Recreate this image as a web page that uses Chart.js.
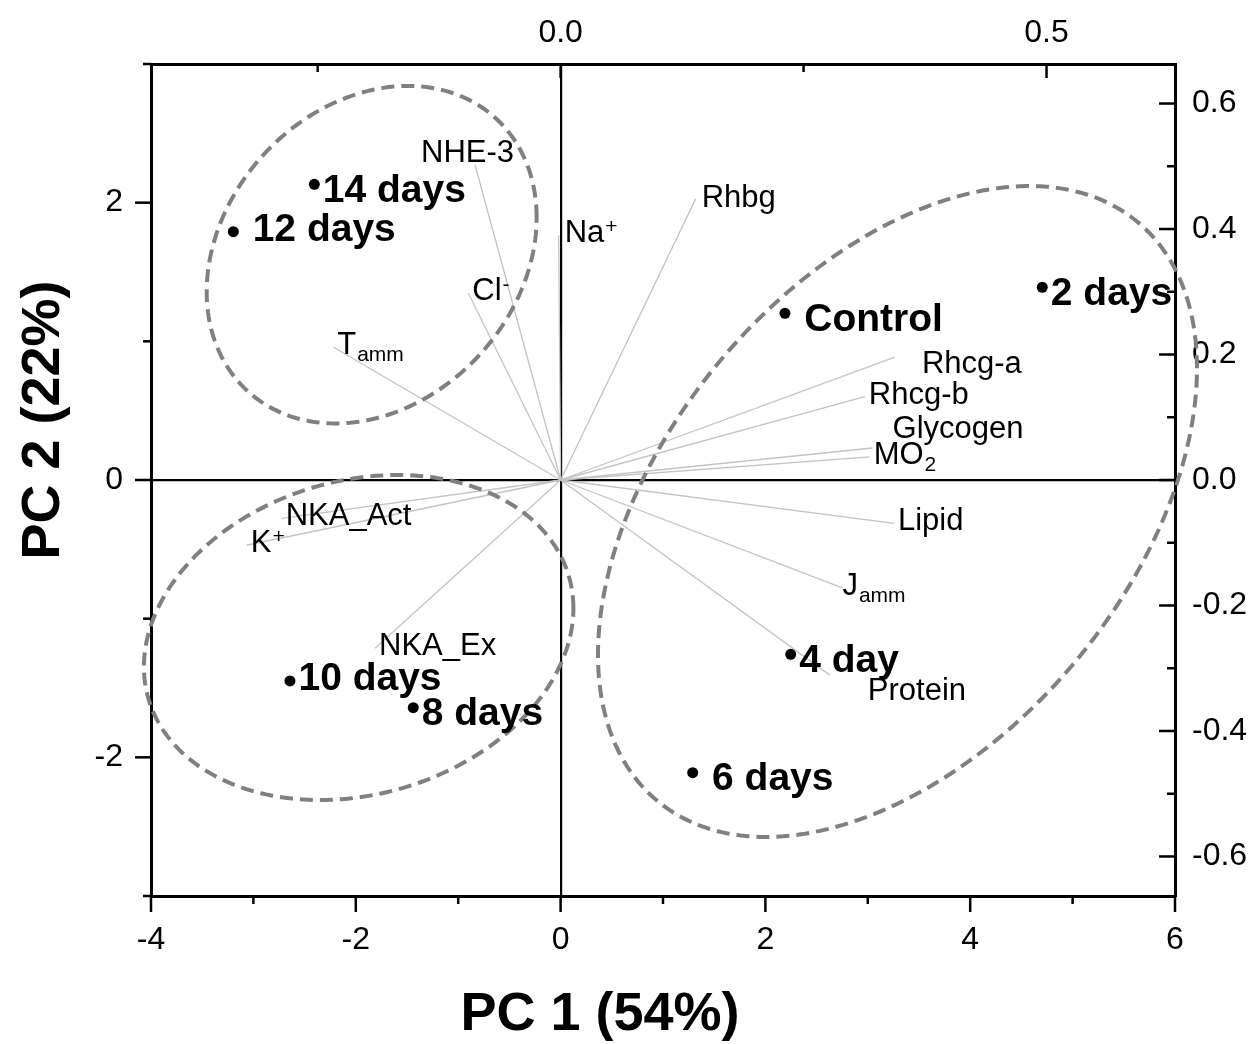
<!DOCTYPE html>
<html>
<head>
<meta charset="utf-8">
<script src="https://cdn.jsdelivr.net/npm/chart.js@4.4.1/dist/chart.umd.min.js"></script>
<style>
  html, body { margin: 0; padding: 0; background: #fff; }
  canvas { display: block; }
</style>
</head>
<body>
<canvas id="biplot" width="1258" height="1044"></canvas>
<script>
// puntuaciones de cada muestreo (PC1, PC2)
const muestras = ['14 days', ' 12 days', '2 days', ' Control', '4 day', ' 6 days', '10 days', '8 days'];
const pc1 = [-2.405, -3.196, 4.704, 2.191, 2.247, 1.290, -2.643, -1.439];
const pc2 = [2.132, 1.791, 1.390, 1.202, -1.257, -2.111, -1.449, -1.642];

// cargas de las variables (ejes superior y derecho); ^ = superíndice, ~ = subíndice
const variables = ['NHE-3', 'Rhbg', 'Na^+', 'Cl^-', 'T~amm', 'Rhcg-a', 'Rhcg-b', 'Glycogen', 'MO~2', 'Lipid', 'J~amm', 'Protein', 'NKA_Ex', 'NKA_Act', 'K^+'];
const carga1 = [-0.088, 0.139, -0.002, -0.095, -0.234, 0.344, 0.313, 0.321, 0.318, 0.343, 0.290, 0.277, -0.191, -0.287, -0.323];
const carga2 = [0.502, 0.448, 0.390, 0.298, 0.212, 0.196, 0.133, 0.051, 0.037, -0.069, -0.172, -0.311, -0.268, -0.061, -0.104];

// elipses de grupo: centro, dispersión en cada eje y correlación
const grupoX = [-1.845, -1.972, 3.290];
const grupoY = [1.625, -1.136, -0.227];
const grupoSx = [1.611, 2.097, 2.925];
const grupoSy = [1.217, 1.172, 2.347];
const grupoR = [0.22, 0.18, 0.44];

// valores con etiqueta en cada eje
const etiquetasX = [-4, -2, 0, 2, 4, 6];
const etiquetasY = [-2, 0, 2];
const etiquetasX2 = [0, 0.5];
const etiquetasY2 = [-0.6, -0.4, -0.2, 0, 0.2, 0.4, 0.6];

const FUENTE = "'Liberation Sans', Arial, sans-serif";

// ajustes de posición de los textos (px)
const ajusteMuestra = { ' 12 days': 9, '10 days': 9 };
const ajusteVariable = {
  'NHE-3': [-54, -3], 'Rhbg': [6, 8], 'Na^+': [6, 7], 'Rhcg-a': [27, 16],
  'Glycogen': [20, -10], 'Protein': [38, 25], 'J~amm': [0, 7]
};

function tieneEtiqueta(v, lista) {
  return lista.some(e => Math.abs(e - v) < 1e-6);
}

function dibujarTextoQuimico(ctx, texto, x, y) {
  let base = texto, extra = '', desplaz = 0;
  if (texto.includes('^')) {
    [base, extra] = texto.split('^');
    desplaz = -9;
  } else if (texto.includes('~')) {
    [base, extra] = texto.split('~');
    desplaz = 7;
  }
  ctx.font = '31px ' + FUENTE;
  ctx.fillText(base, x, y);
  if (extra) {
    const ancho = ctx.measureText(base).width;
    ctx.font = '21px ' + FUENTE;
    ctx.fillText(extra, x + ancho + 1, y + desplaz);
  }
}

const elipsesYEtiquetas = {
  id: 'elipsesYEtiquetas',
  afterDatasetsDraw(chart) {
    const { ctx, scales } = chart;
    const { x, y, x2, y2 } = scales;
    ctx.save();

    ctx.strokeStyle = '#808080';
    ctx.lineWidth = 4;
    ctx.setLineDash([13, 7]);
    grupoX.forEach((cx, i) => {
      const r = grupoR[i];
      ctx.beginPath();
      for (let k = 0; k <= 240; k++) {
        const t = k / 240 * 2 * Math.PI;
        const vx = cx + grupoSx[i] * Math.cos(t);
        const vy = grupoY[i] + grupoSy[i] * (r * Math.cos(t) + Math.sqrt(1 - r * r) * Math.sin(t));
        const px = x.getPixelForValue(vx);
        const py = y.getPixelForValue(vy);
        if (k === 0) ctx.moveTo(px, py); else ctx.lineTo(px, py);
      }
      ctx.closePath();
      ctx.stroke();
    });
    ctx.setLineDash([]);

    ctx.fillStyle = '#000';
    ctx.textAlign = 'left';
    ctx.textBaseline = 'alphabetic';
    variables.forEach((v, i) => {
      const [dx, dy] = ajusteVariable[v] || [4, 7];
      dibujarTextoQuimico(ctx, v, x2.getPixelForValue(carga1[i]) + dx, y2.getPixelForValue(carga2[i]) + dy);
    });

    ctx.font = 'bold 39px ' + FUENTE;
    muestras.forEach((m, i) => {
      const dy = ajusteMuestra[m] !== undefined ? ajusteMuestra[m] : 17.5;
      ctx.fillText(m, x.getPixelForValue(pc1[i]) + 8.5, y.getPixelForValue(pc2[i]) + dy);
    });
    ctx.restore();
  }
};

const marcasYTitulos = {
  id: 'marcasYTitulos',
  afterDraw(chart) {
    const { ctx, chartArea: area, scales } = chart;
    ctx.save();
    ctx.strokeStyle = '#000';
    ctx.lineWidth = 2.5;
    const ejes = [
      { id: 'x', etiquetas: etiquetasX, borde: area.bottom, sentido: 1, largo: 16 },
      { id: 'x2', etiquetas: etiquetasX2, borde: area.top, sentido: 1, largo: 14 },
      { id: 'y', etiquetas: etiquetasY, borde: area.left, sentido: -1, largo: 16 },
      { id: 'y2', etiquetas: etiquetasY2, borde: area.right, sentido: -1, largo: 16 }
    ];
    ejes.forEach(e => {
      const escala = scales[e.id];
      escala.ticks.forEach(t => {
        const p = escala.getPixelForValue(t.value);
        const largo = tieneEtiqueta(t.value, e.etiquetas) ? e.largo : 8;
        ctx.beginPath();
        if (escala.isHorizontal()) {
          ctx.moveTo(p, e.borde);
          ctx.lineTo(p, e.borde + e.sentido * largo);
        } else {
          ctx.moveTo(e.borde, p);
          ctx.lineTo(e.borde + e.sentido * largo, p);
        }
        ctx.stroke();
      });
    });

    ctx.fillStyle = '#000';
    ctx.font = 'bold 54px ' + FUENTE;
    ctx.textAlign = 'center';
    ctx.textBaseline = 'alphabetic';
    ctx.fillText('PC 1 (54%)', 600, 1030);
    ctx.translate(59, 420);
    ctx.rotate(-Math.PI / 2);
    ctx.fillText('PC 2 (22%)', 0, 0);
    ctx.restore();
  }
};

function lineaCero(c) {
  return c.tick && Math.abs(c.tick.value) < 1e-9 ? '#000' : 'rgba(0,0,0,0)';
}

function configurarEje(posicion, min, max, paso, etiquetas, padding, tam, decimales, conCero) {
  return {
    type: 'linear',
    position: posicion,
    min: min,
    max: max,
    ticks: {
      stepSize: paso,
      includeBounds: false,
      autoSkip: false,
      maxRotation: 0,
      padding: padding,
      color: '#000',
      font: { family: FUENTE, size: 32 },
      callback: v => tieneEtiqueta(v, etiquetas) ? (decimales ? v.toFixed(decimales) : String(Math.round(v))) : ''
    },
    grid: conCero
      ? { drawTicks: false, color: lineaCero, lineWidth: 2.2 }
      : { display: false, drawTicks: false },
    border: { color: '#000', width: 3 },
    afterFit: s => {
      if (s.isHorizontal()) s.height = tam; else s.width = tam;
    }
  };
}

function graficarBiplot(ctx) {
  const puntos = {
    label: 'Muestras',
    data: pc1.map((v, i) => ({ x: v, y: pc2[i] })),
    xAxisID: 'x',
    yAxisID: 'y',
    pointRadius: 5.5,
    pointBackgroundColor: '#000',
    pointBorderWidth: 0
  };
  const lineasCarga = variables.map((v, i) => ({
    label: v,
    data: [{ x: 0, y: 0 }, { x: carga1[i], y: carga2[i] }],
    xAxisID: 'x2',
    yAxisID: 'y2',
    showLine: true,
    borderColor: '#c4c4c4',
    borderWidth: 1.3,
    pointRadius: 0
  }));

  new Chart(ctx, {
    type: 'scatter',
    data: { datasets: [puntos, ...lineasCarga] },
    options: {
      responsive: false,
      animation: false,
      devicePixelRatio: 1,
      layout: { padding: 0, autoPadding: false },
      plugins: {
        legend: { display: false },
        tooltip: { enabled: false }
      },
      scales: {
        x: configurarEje('bottom', -4, 6, 1, etiquetasX, 25, 148, 0, true),
        y: configurarEje('left', -3, 3, 1, etiquetasY, 28, 151, 0, true),
        x2: configurarEje('top', -0.4215, 0.6322, 0.25, etiquetasX2, 12, 64, 1, false),
        y2: configurarEje('right', -0.663, 0.663, 0.1, etiquetasY2, 17, 83, 1, false)
      }
    },
    plugins: [elipsesYEtiquetas, marcasYTitulos]
  });
}

document.addEventListener('DOMContentLoaded', () => {
  graficarBiplot(document.getElementById('biplot'));
});
</script>
</body>
</html>
